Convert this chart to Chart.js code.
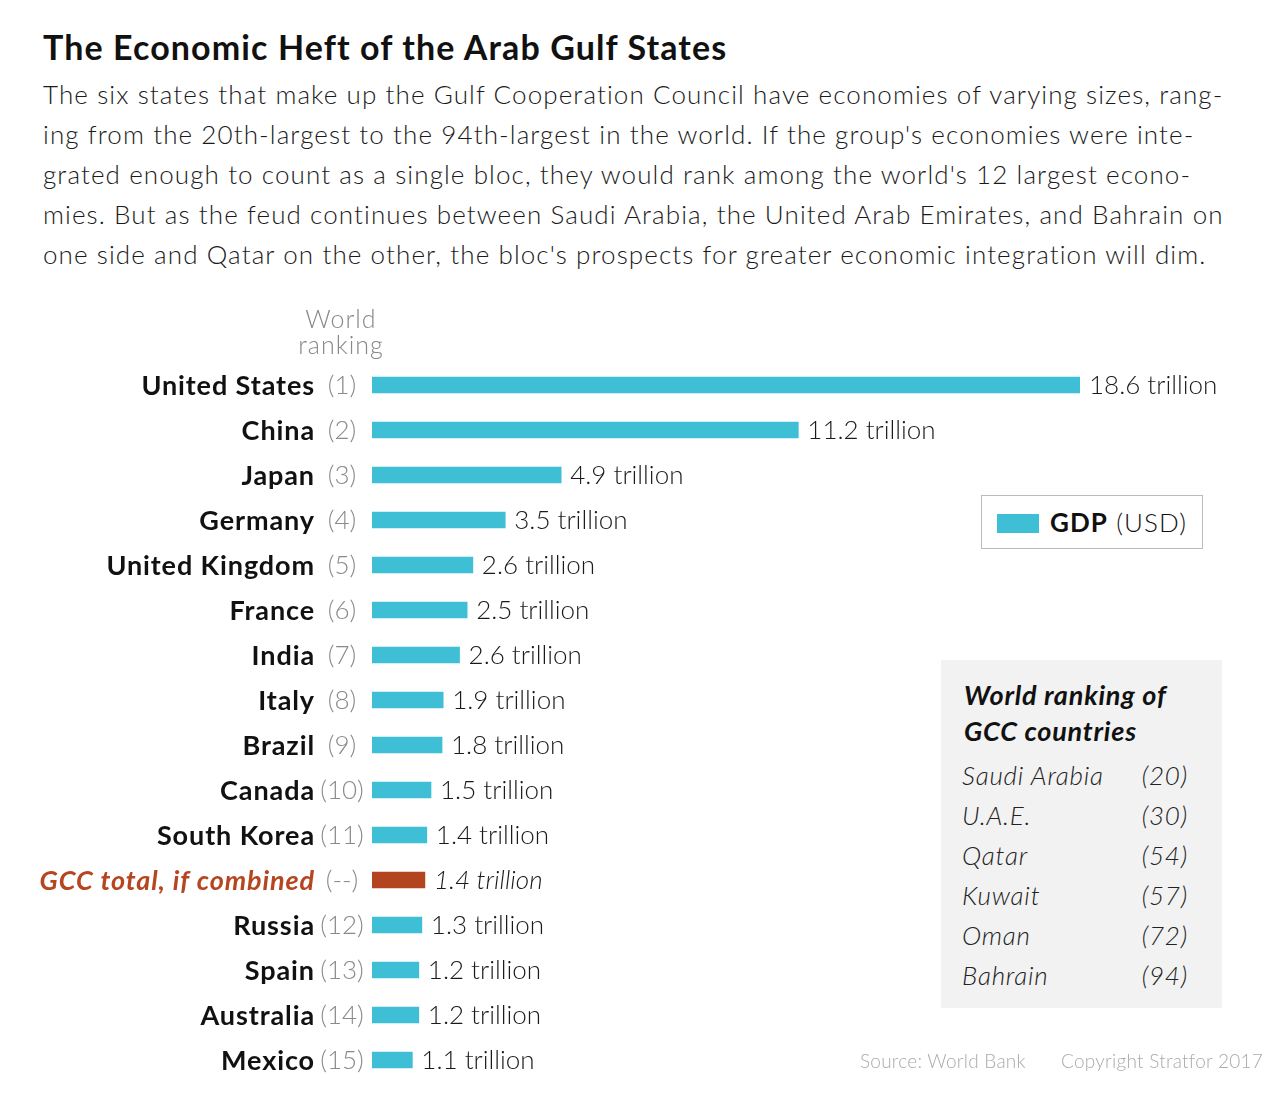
<!DOCTYPE html>
<html>
<head>
<meta charset="utf-8">
<script src="https://cdn.jsdelivr.net/npm/chart.js@4.4.1/dist/chart.umd.min.js"></script>
<style>
  body { margin: 0; background: #fff; font-family: Lato, "Open Sans", sans-serif; }
  #page { position: relative; width: 1280px; height: 1110px; overflow: hidden; }
  h1 { position: absolute; left: 43px; top: 27px; margin: 0; font-size: 34px; line-height: 40px; font-weight: 700; color: #111; letter-spacing: 1.1px; white-space: nowrap; }
  .intro { position: absolute; left: 43px; top: 74px; margin: 0; font-size: 26px; line-height: 40px; font-weight: 300; color: #1a1a1a; white-space: nowrap; letter-spacing: 1.1px; }
  #chartWrap { position: absolute; left: 0; top: 290px; width: 1280px; height: 800px; }
  .legend { position: absolute; left: 981px; top: 495px; width: 222px; height: 54px; border: 1.5px solid #bbb; box-sizing: border-box; background: #fff; }
  .legend .sw { position: absolute; left: 15px; top: 18px; width: 42px; height: 19px; background: #3ebfd5; }
  .legend .txt { position: absolute; left: 68px; top: 8px; font-size: 26px; line-height: 36px; color: #111; font-weight: 300; letter-spacing: 1.1px; }
  .legend .txt b { font-weight: 700; }
  .gcc { position: absolute; left: 941px; top: 660px; width: 281px; height: 348px; background: #f2f2f2; }
  .gcc h2 { position: absolute; left: 23px; top: 17px; margin: 0; font-size: 27px; line-height: 36px; font-weight: 700; font-style: italic; color: #111; letter-spacing: 0.8px; }
  .gcc .row { position: absolute; left: 21px; width: 226px; font-size: 26px; line-height: 32px; font-style: italic; font-weight: 300; color: #222; letter-spacing: 0.8px; }
  .gcc .row span { position: absolute; right: 0; }
  .foot { position: absolute; top: 1048px; font-size: 19px; line-height: 26px; color: #aaa; font-weight: 300; letter-spacing: 0.25px; }
</style>
</head>
<body>
<div id="page">
  <h1>The Economic Heft of the Arab Gulf States</h1>
  <p class="intro">The six states that make up the Gulf Cooperation Council have economies of varying sizes, rang-<br>ing from the 20th-largest to the 94th-largest in the world. If the group's economies were inte-<br>grated enough to count as a single bloc, they would rank among the world's 12 largest econo-<br>mies. But as the feud continues between Saudi Arabia, the United Arab Emirates, and Bahrain on<br>one side and Qatar on the other, the bloc's prospects for greater economic integration will dim.</p>
  <div id="chartWrap"><canvas id="gdpChart" width="1280" height="800"></canvas></div>
  <div class="legend"><div class="sw"></div><div class="txt"><b>GDP</b> (USD)</div></div>
  <div class="gcc" id="gccBox">
    <h2>World ranking of<br>GCC countries</h2>
  </div>
  <div class="foot" style="left:860px">Source: World Bank</div>
  <div class="foot" style="left:1061px">Copyright Stratfor 2017</div>
</div>
<script>
const countries = ["United States", "China", "Japan", "Germany", "United Kingdom", "France", "India", "Italy",
  "Brazil", "Canada", "South Korea", "GCC total, if combined", "Russia", "Spain", "Australia", "Mexico"];
const ranks = ["(1)", "(2)", "(3)", "(4)", "(5)", "(6)", "(7)", "(8)", "(9)", "(10)", "(11)", "(--)", "(12)", "(13)", "(14)", "(15)"];
const gdpValues = [18.6, 11.2, 4.97, 3.5, 2.65, 2.5, 2.3, 1.87, 1.84, 1.55, 1.44, 1.39, 1.31, 1.23, 1.23, 1.06];
const gdpLabels = ["18.6 trillion", "11.2 trillion", "4.9 trillion", "3.5 trillion", "2.6 trillion", "2.5 trillion",
  "2.6 trillion", "1.9 trillion", "1.8 trillion", "1.5 trillion", "1.4 trillion", "1.4 trillion", "1.3 trillion",
  "1.2 trillion", "1.2 trillion", "1.1 trillion"];
const gccIndex = 11;

const gccCountries = ["Saudi Arabia", "U.A.E.", "Qatar", "Kuwait", "Oman", "Bahrain"];
const gccRanks = ["(20)", "(30)", "(54)", "(57)", "(72)", "(94)"];

const blue = "#3ebfd5";
const rust = "#b34420";

// GCC ranking list
const box = document.querySelector("#gccBox");
gccCountries.forEach((name, i) => {
    const row = document.createElement("div");
    row.className = "row";
    row.style.top = (99 + i * 40) + "px";
    row.innerHTML = name + "<span>" + gccRanks[i] + "</span>";
    box.appendChild(row);
});

// labels left of and right of each bar
const labelPlugin = {
    id: "barLabels",
    afterDatasetsDraw(chart) {
        const ctx = chart.ctx;
        const meta = chart.getDatasetMeta(0);
        ctx.save();
        ctx.textBaseline = "middle";

        // column header
        ctx.fillStyle = "#888";
        ctx.font = "300 25px Lato";
        ctx.letterSpacing = "1px";
        ctx.textAlign = "center";
        ctx.fillText("World", 341, 30);
        ctx.fillText("ranking", 341, 56);

        meta.data.forEach((bar, i) => {
            const y = bar.y + 1;
            const isGcc = i === gccIndex;
            ctx.textAlign = "right";
            ctx.fillStyle = isGcc ? "#b5461f" : "#111";
            ctx.font = (isGcc ? "italic " : "") + "700 27px Lato";
            ctx.letterSpacing = "0.9px";
            ctx.fillText(countries[i], 315, y);

            ctx.textAlign = "center";
            ctx.fillStyle = "#8a8a8a";
            ctx.font = "300 26px Lato";
            ctx.letterSpacing = "0px";
            ctx.fillText(ranks[i], 342, y);

            ctx.textAlign = "left";
            ctx.fillStyle = "#1a1a1a";
            ctx.font = (isGcc ? "italic " : "") + "300 26px Lato";
            ctx.fillText(gdpLabels[i], bar.x + 9, y);
        });
        ctx.restore();
    }
};

function draw() {
    new Chart(document.querySelector("#gdpChart"), {
        type: "bar",
        data: {
            labels: countries,
            datasets: [
                {
                    label: "GDP (USD)",
                    data: gdpValues,
                    backgroundColor: countries.map((c, i) => i === gccIndex ? rust : blue),
                    barThickness: 16,
                    borderWidth: 0,
                },
            ],
        },
        options: {
            indexAxis: "y",
            responsive: false,
            animation: false,
            layout: { padding: { left: 372, right: 200, top: 72.5, bottom: 7.5 } },
            plugins: { legend: { display: false }, tooltip: { enabled: false } },
            scales: {
                x: { display: false, min: 0, max: 18.6 },
                y: { display: false },
            },
        },
        plugins: [labelPlugin],
    });
}

if (document.fonts && document.fonts.load) {
    Promise.all([
        document.fonts.load("700 27px Lato"),
        document.fonts.load("italic 700 27px Lato"),
        document.fonts.load("300 26px Lato"),
        document.fonts.load("italic 300 26px Lato"),
    ]).then(draw, draw);
} else {
    draw();
}
</script>
</body>
</html>
